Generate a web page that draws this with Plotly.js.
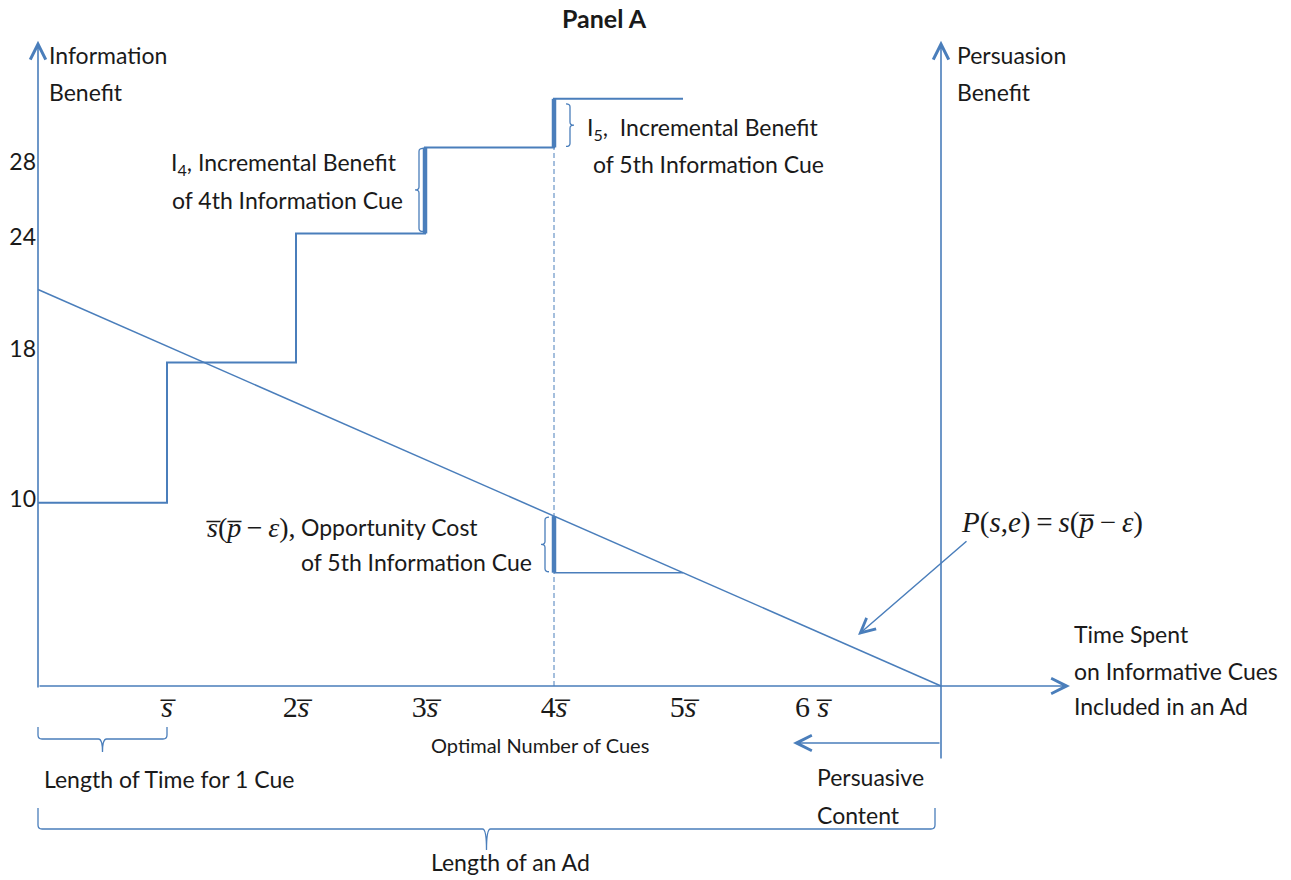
<!DOCTYPE html>
<html>
<head>
<meta charset="utf-8">
<script src="https://cdn.plot.ly/plotly-3.0.1.min.js"></script>
<style>html,body{margin:0;padding:0;background:#fff}</style>
</head>
<body>
<div id="chart" style="width:1291px;height:880px"></div>
<script>
// ---------------- data ----------------
const cueBoundaries = [0, 1, 2, 3, 4, 5];            // time in units of s-bar
const infoBenefit   = [9.8, 17.3, 24.2, 28.8, 31.4];  // cumulative information benefit per cue
const xTickVals     = [1, 2, 3, 4, 5, 6];
const xTickText     = ['<i>s\u0305</i>', '2<i>s\u0305</i>', '3<i>s\u0305</i>', '4<i>s\u0305</i>', '5<i>s\u0305</i>', '6 <i>s\u0305</i>'];
const yTickVals     = [10, 18, 24, 28];
const yTickText     = ['10', '18', '24', '28'];
const persuasionX   = [0, 7];                          // P(s,e) line, from 0 to ad length
const persuasionY   = [21.2, 0];
const optimalCues   = 4;
const adLength      = 7;
const axisTop       = 34.5;
const xAxisEnd      = 8;

// --------------- helpers ----------------
const W = 1291, H = 880, X0 = 38, Y0 = 686, PX_X = 129, PX_Y = 18.7;
const X = p => (p - X0) / PX_X;          // pixel -> data (for label placement)
const Y = p => (Y0 - p) / PX_Y;
const dX = p => p / PX_X, dY = p => p / PX_Y;
const P = s => persuasionY[0] + (persuasionY[1] - persuasionY[0]) * (s - persuasionX[0]) / (persuasionX[1] - persuasionX[0]);

const BLUE = '#4a7ebb';
const TXT = '#1a1a1a';
const SANS = 'Lato, "Open Sans", sans-serif';
const SERIF = '"Liberation Serif", "DejaVu Serif", serif';
const FS = 23;

const step = {
  x: cueBoundaries,
  y: infoBenefit.concat([infoBenefit[infoBenefit.length - 1]]),
  mode: 'lines', line: {shape: 'hv', color: BLUE, width: 2}, hoverinfo: 'skip'
};
const inc4 = {x: [3, 3], y: [infoBenefit[2], infoBenefit[3]], mode: 'lines',
  line: {color: BLUE, width: 4.5}, hoverinfo: 'skip'};
const inc5 = {x: [optimalCues, optimalCues], y: [infoBenefit[3], infoBenefit[4]], mode: 'lines',
  line: {color: BLUE, width: 4.5}, hoverinfo: 'skip'};
const persuasion = {x: persuasionX, y: persuasionY, mode: 'lines',
  line: {color: BLUE, width: 1.5}, hoverinfo: 'skip'};
const oppCost = {x: [optimalCues, optimalCues], y: [P(optimalCues), P(optimalCues + 1)], mode: 'lines',
  line: {color: BLUE, width: 4.5}, hoverinfo: 'skip'};
const oppLine = {x: [optimalCues, optimalCues + 1], y: [P(optimalCues + 1), P(optimalCues + 1)], mode: 'lines',
  line: {color: BLUE, width: 1.6}, hoverinfo: 'skip'};
const optimalDash = {x: [optimalCues, optimalCues], y: [0, infoBenefit[4]], mode: 'lines',
  line: {color: BLUE, width: 1, dash: '5px,3px'}, hoverinfo: 'skip'};

// braces
function vBrace(xData, offPx, y0, y1, dir) {
  const xl = xData + dX(offPx);
  const xe = xl - dir * dX(4), xn = xl + dir * dX(4);
  const d = dY(3), ym = (y0 + y1) / 2;
  return {type: 'path', xref: 'x', yref: 'y', line: {color: BLUE, width: 1.3},
    path: `M${xe},${y1} Q${xl},${y1} ${xl},${y1 - d} L${xl},${ym + d} Q${xl},${ym} ${xn},${ym}` +
          ` Q${xl},${ym} ${xl},${ym - d} L${xl},${y0 + d} Q${xl},${y0} ${xe},${y0}`};
}
function hBrace(x0, x1, yTop, yLine, yNub) {
  const xm = (x0 + x1) / 2, r = dX(4);
  return {type: 'path', xref: 'x', yref: 'y', line: {color: BLUE, width: 1.3},
    path: `M${x0},${yTop} L${x0},${yLine + dY(4)} Q${x0},${yLine} ${x0 + r},${yLine} L${xm - r},${yLine}` +
          ` Q${xm},${yLine} ${xm},${yNub} Q${xm},${yLine} ${xm + r},${yLine} L${x1 - r},${yLine}` +
          ` Q${x1},${yLine} ${x1},${yLine + dY(4)} L${x1},${yTop}`};
}
const shapes = [
  vBrace(3, -6, infoBenefit[2] + dY(2), infoBenefit[3] - dY(1), -1),
  vBrace(optimalCues, 16, infoBenefit[3] + dY(1), infoBenefit[4] - dY(5), 1),
  vBrace(optimalCues, -9, P(optimalCues + 1) + dY(1), P(optimalCues) - dY(1), -1),
  hBrace(cueBoundaries[0], cueBoundaries[1], Y(727), Y(739), Y(752)),
  hBrace(0, adLength - dX(6), Y(808), Y(829), Y(850))
];

// arrows (axes and pointers)
function arrow(x, y, ax, ay, w) {
  return {x: x, y: y, ax: ax, ay: ay, xref: 'x', yref: 'y', axref: 'x', ayref: 'y',
    text: '', showarrow: true, arrowhead: 5, arrowsize: 1.9, arrowwidth: w || 1.6,
    arrowcolor: BLUE, standoff: 0, startstandoff: 0};
}
const arrows = [
  arrow(0, axisTop, 0, Y(689)),                 // information benefit axis
  arrow(xAxisEnd, 0, 0, 0),                      // time axis
  arrow(adLength, axisTop, adLength, Y(760)),    // persuasion benefit axis
  arrow(X(793), Y(743), adLength, Y(743)),       // persuasive content
  arrow(X(858), Y(635), X(968), Y(540), 1.5)     // P(s,e) pointer
];

function txt(text, xpx, ypx, size, extra) {
  return Object.assign({x: X(xpx), y: Y(ypx), xref: 'x', yref: 'y', text: text,
    showarrow: false, xanchor: 'left', yanchor: 'middle',
    font: {family: SANS, size: size || FS, color: TXT}}, extra || {});
}
const bar = c => c + '\u0305';
const labels = [
  txt('Information', 47, 55), txt('Benefit', 47, 92),
  txt('Persuasion', 955, 55), txt('Benefit', 955, 92),
  txt('I<sub>4</sub>, Incremental Benefit', 169, 163),
  txt('of 4th Information Cue', 170, 200),
  txt('I<sub>5</sub>,  Incremental Benefit', 585, 128),
  txt('of 5th Information Cue', 591, 164),
  txt('<i>' + bar('s') + '</i>(<i>' + bar('p') + '</i>\u2009\u2212\u2009<i>\u03b5</i>),', 204, 527, 28,
      {font: {family: SERIF, size: 28, color: TXT}}),
  txt('Opportunity Cost', 299, 527),
  txt('of 5th Information Cue', 299, 562),
  txt('<i>P</i>(<i>s</i>,<i>e</i>)\u2009=\u2009<i>s</i>(<i>' + bar('p') + '</i>\u2009\u2212\u2009<i>\u03b5</i>)', 959, 522, 29,
      {font: {family: SERIF, size: 29, color: TXT}}),
  txt('Time Spent', 1072, 634), txt('on Informative Cues', 1072, 671), txt('Included in an Ad', 1072, 706),
  txt('Optimal Number of Cues', 429, 745, 20),
  txt('Length of Time for 1 Cue', 42, 779),
  txt('Persuasive', 815, 777), txt('Content', 815, 815),
  txt('Length of an Ad', 429, 862)
];

const layout = {
  width: W, height: H, margin: {l: 0, r: 0, t: 0, b: 0, pad: 0},
  paper_bgcolor: '#fff', plot_bgcolor: '#fff', showlegend: false,
  title: {text: '<b>Panel A</b>', x: 604 / W, xanchor: 'center', y: 1 - 19 / H, yanchor: 'middle',
    font: {family: SANS, size: 25, color: TXT}},
  xaxis: {range: [X(0), X(W)], anchor: 'free', position: (H - Y0) / H, showgrid: false, zeroline: false,
    showline: false, ticks: '', tickvals: xTickVals, ticktext: xTickText, fixedrange: true,
    tickfont: {family: SERIF, size: 30, color: TXT}},
  yaxis: {range: [Y(H), Y(0)], anchor: 'free', position: X0 / W, showgrid: false, zeroline: false,
    showline: false, ticks: '', tickvals: yTickVals, ticktext: yTickText, fixedrange: true,
    ticklabelstandoff: 2, tickfont: {family: SANS, size: FS, color: TXT}},
  shapes: shapes,
  annotations: arrows.concat(labels)
};

Plotly.newPlot('chart', [optimalDash, step, inc4, inc5, persuasion, oppCost, oppLine], layout,
  {staticPlot: true, displayModeBar: false});
</script>
</body>
</html>
